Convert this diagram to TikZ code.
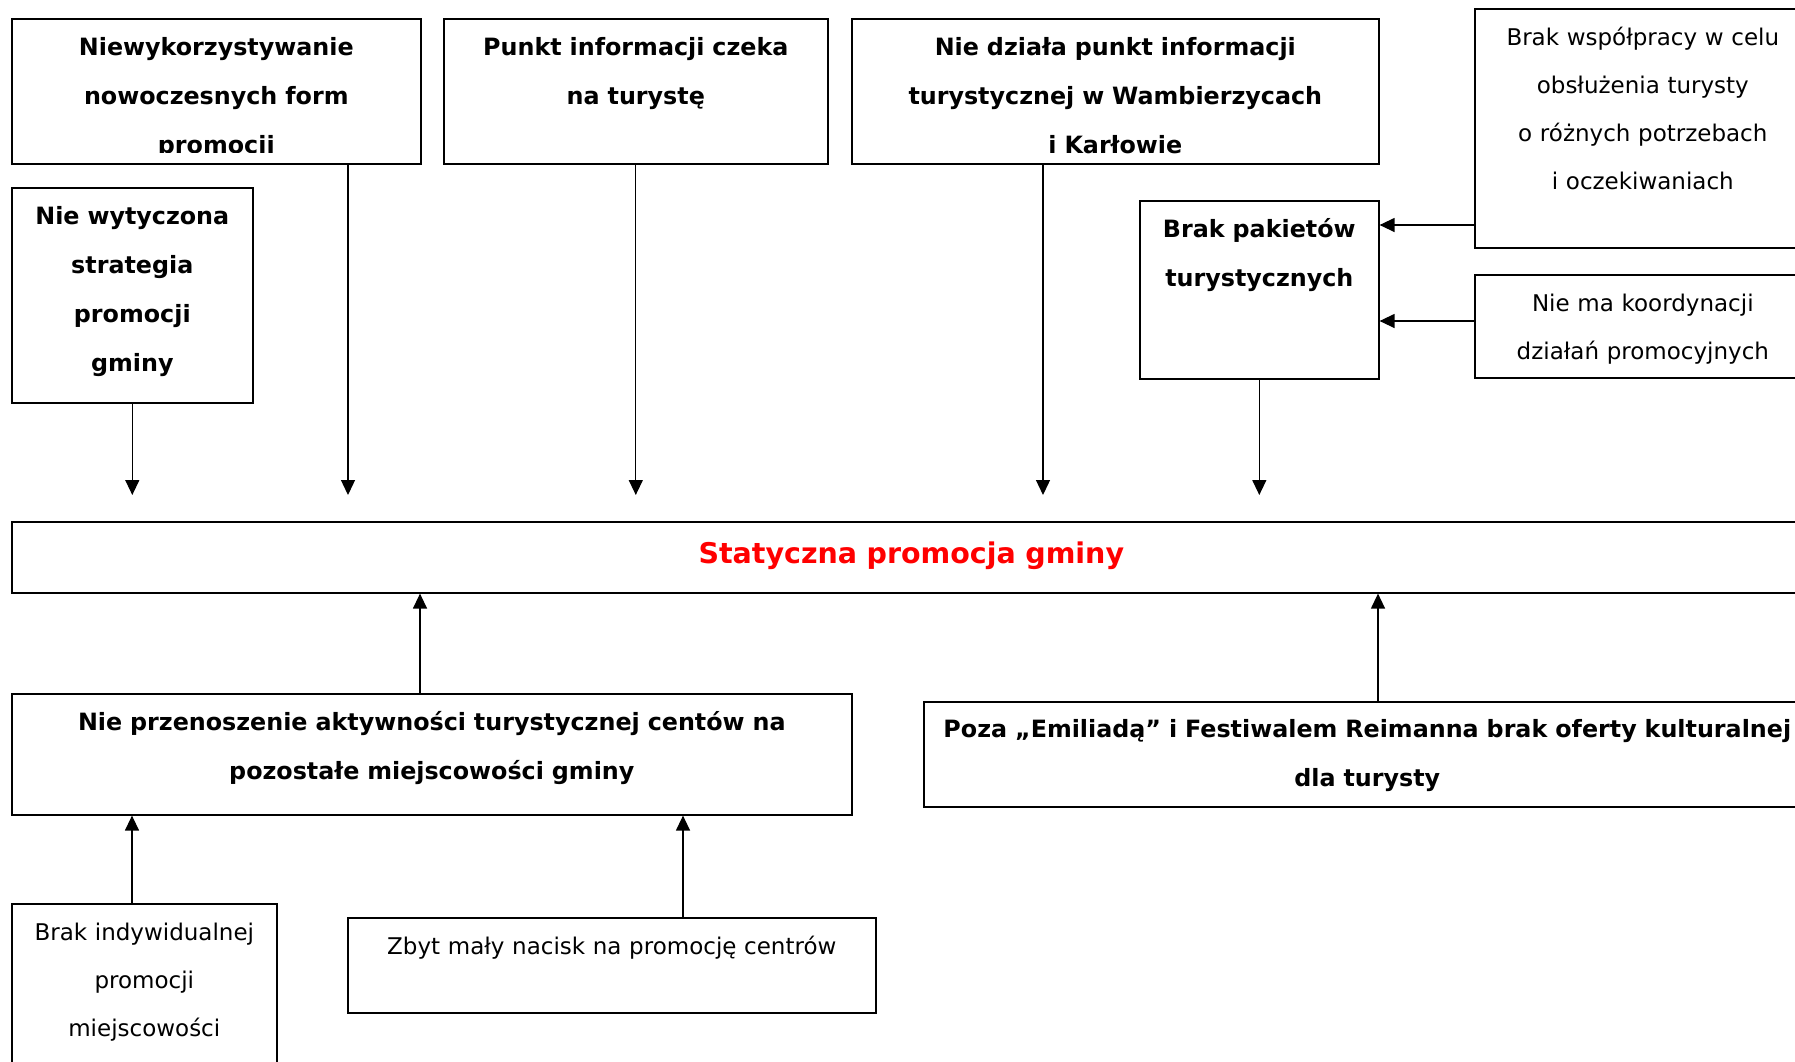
\documentclass[tikz,border=0pt]{standalone}
\usepackage{fontspec}
\setmainfont{DejaVu Sans}
\usetikzlibrary{arrows.meta}

\tikzset{
  cause/.style={draw, line width=1.6pt, inner sep=0pt, align=center, text height=37pt, anchor=north west},
  boldtxt/.style={font=\fontsize{23.8}{49}\selectfont\bfseries},
  plaintxt/.style={font=\fontsize{23}{48}\selectfont},
  arr/.style={-{Triangle[length=15pt,width=14pt]}, line width=1.3pt},
}

\begin{document}
\begin{tikzpicture}[x=1pt,y=1pt,yscale=-1,xscale=1]
\clip (0,0) rectangle (1795,1061);

% Top row
\node (nowe) [cause, boldtxt, text width=409pt, text depth=108pt] at (11,18) {Niewykorzystywanie\\nowoczesnych form\\promocji};
% mask: last line is cut off
\fill [white] (13,153) rectangle (418,161.7);
\node (punkt) [cause, boldtxt, text width=384pt, text depth=108pt] at (443,18) {Punkt informacji czeka\\na turystę};
\node (dziala) [cause, boldtxt, text width=527pt, text depth=108pt] at (851,18) {Nie działa punkt informacji\\turystycznej w Wambierzycach\\i Karłowie};
\node (wspol) [cause, plaintxt, text width=336pt, text depth=202pt] at (1474,8) {Brak współpracy w celu\\obsłużenia turysty\\o różnych potrzebach\\i oczekiwaniach};

% Second row
\node (strat) [cause, boldtxt, text width=241pt, text depth=178pt] at (11,187) {Nie wytyczona\\strategia\\promocji\\gminy};
\node (pakiet) [cause, boldtxt, text width=239pt, text depth=141pt] at (1139,200) {Brak pakietów\\turystycznych};
\node (koord) [cause, plaintxt, text width=336pt, text depth=66pt] at (1474,274) {Nie ma koordynacji\\działań promocyjnych};

% Main problem
\node (stat) [cause, font=\fontsize{28.5}{34}\selectfont\bfseries, text=red, text width=1799pt, text height=42pt, text depth=29pt] at (11,521) {Statyczna promocja gminy};

% Lower rows
\node (przen) [cause, boldtxt, text width=840pt, text depth=84pt] at (11,693) {Nie przenoszenie aktywności turystycznej centów na\\pozostałe miejscowości gminy};
\node (poza) [cause, boldtxt, text width=887pt, text height=36pt, text depth=69pt] at (923,701) {Poza „Emiliadą” i Festiwalem Reimanna brak oferty kulturalnej\\dla turysty};
\node (indyw) [cause, plaintxt, text width=265pt, text depth=163pt] at (11,903) {Brak indywidualnej\\promocji\\miejscowości};
\node (zbyt) [cause, plaintxt, text width=528pt, text depth=58pt] at (347,917) {Zbyt mały nacisk na promocję centrów};

% Arrow columns and rows
\coordinate (colA) at (348,0);
\coordinate (colC) at (1043,0);
\coordinate (colH) at (420,0);
\coordinate (colI) at (1378,0);
\coordinate (colJ) at (132,0);
\coordinate (colK) at (683,0);
\coordinate (rowD) at (0,225);
\coordinate (rowG) at (0,321);

% Straight Lines: down to main problem
\draw [arr, shorten >=26pt] (strat.south) -- (strat.south |- stat.north);
\draw [arr, shorten >=26pt] (colA |- nowe.south) -- (colA |- stat.north);
\draw [arr, shorten >=26pt] (punkt.south) -- (punkt.south |- stat.north);
\draw [arr, shorten >=26pt] (colC |- dziala.south) -- (colC |- stat.north);
\draw [arr, shorten >=26pt] (pakiet.south) -- (pakiet.south |- stat.north);
% Straight Lines: into Brak pakietow
\draw [arr] (rowD -| wspol.west) -- (rowD -| pakiet.east);
\draw [arr] (rowG -| koord.west) -- (rowG -| pakiet.east);
% Straight Lines: up to main problem
\draw [arr] (colH |- przen.north) -- (colH |- stat.south);
\draw [arr] (colI |- poza.north) -- (colI |- stat.south);
% Straight Lines: up to Nie przenoszenie
\draw [arr] (colJ |- indyw.north) -- (colJ |- przen.south);
\draw [arr] (colK |- zbyt.north) -- (colK |- przen.south);

\end{tikzpicture}
\end{document}
